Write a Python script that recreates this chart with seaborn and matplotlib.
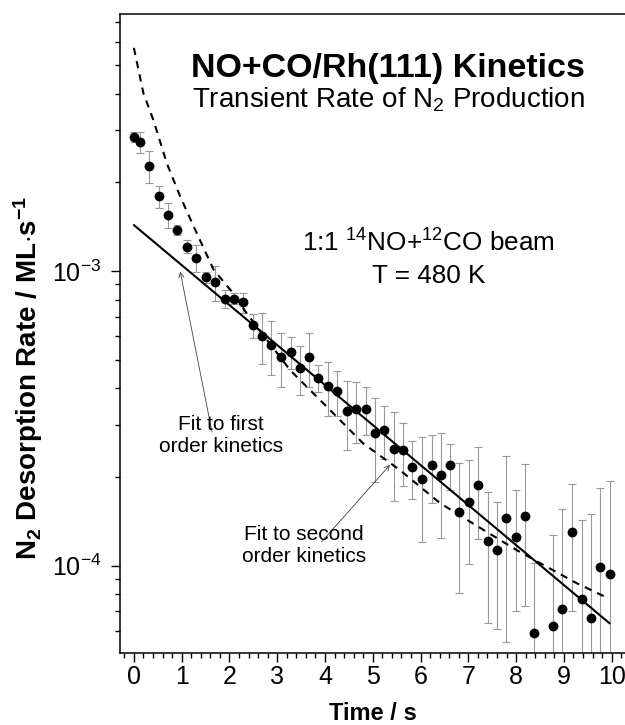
import numpy as np
import matplotlib
matplotlib.use("Agg")
import matplotlib.pyplot as plt
import matplotlib.ticker as mticker
import seaborn as sns

# measured N2 desorption rate (ML/s) vs time (s)
time_s = [0.00, 0.13, 0.32, 0.52, 0.72, 0.91, 1.11, 1.31, 1.51, 1.70, 1.90, 2.09,
          2.29, 2.49, 2.68, 2.88, 3.08, 3.28, 3.47, 3.67, 3.86, 4.06, 4.26, 4.46,
          4.65, 4.85, 5.05, 5.24, 5.44, 5.63, 5.83, 6.03, 6.23, 6.42, 6.62, 6.81,
          7.01, 7.21, 7.41, 7.60, 7.79, 7.99, 8.19, 8.38, 8.78, 8.97, 9.18, 9.37,
          9.56, 9.76, 9.96]
rate = [2.86e-3, 2.74e-3, 2.27e-3, 1.79e-3, 1.55e-3, 1.38e-3, 1.21e-3, 1.11e-3,
        0.952e-3, 0.916e-3, 0.805e-3, 0.805e-3, 0.783e-3, 0.654e-3, 0.603e-3,
        0.560e-3, 0.510e-3, 0.531e-3, 0.468e-3, 0.510e-3, 0.433e-3, 0.407e-3,
        0.391e-3, 0.334e-3, 0.341e-3, 0.341e-3, 0.282e-3, 0.289e-3, 0.249e-3,
        0.246e-3, 0.216e-3, 0.197e-3, 0.220e-3, 0.203e-3, 0.220e-3, 0.152e-3,
        0.165e-3, 0.188e-3, 0.121e-3, 0.113e-3, 0.145e-3, 0.125e-3, 0.147e-3,
        0.0589e-3, 0.0624e-3, 0.0713e-3, 0.130e-3, 0.0771e-3, 0.0663e-3,
        0.0992e-3, 0.0935e-3]
rate_err = [0.11e-3, 0.23e-3, 0.28e-3, 0.16e-3, 0.15e-3, 0.05e-3, 0.06e-3, 0.12e-3,
            0.043e-3, 0.126e-3, 0.057e-3, 0.035e-3, 0.06e-3, 0.06e-3, 0.12e-3,
            0.117e-3, 0.105e-3, 0.065e-3, 0.088e-3, 0.105e-3, 0.045e-3, 0.085e-3,
            0.068e-3, 0.088e-3, 0.08e-3, 0.064e-3, 0.089e-3, 0.058e-3, 0.083e-3,
            0.059e-3, 0.048e-3, 0.077e-3, 0.057e-3, 0.079e-3, 0.039e-3, 0.071e-3,
            0.064e-3, 0.065e-3, 0.057e-3, 0.052e-3, 0.090e-3, 0.055e-3, 0.074e-3,
            0.043e-3, 0.065e-3, 0.085e-3, 0.060e-3, 0.066e-3, 0.084e-3, 0.085e-3,
            0.100e-3]

# fits
first_order_t = [0.0, 9.96]
first_order_rate = [1.432e-3, 6.37e-5]
second_order_t = [0.0, 0.20, 0.41, 0.69, 0.97, 1.32, 1.67, 2.08, 2.36, 3.27, 4.04,
                  4.80, 5.57, 6.41, 7.10, 8.01, 8.64, 9.27, 9.93]
second_order_rate = [5.72e-3, 4.01e-3, 3.25e-3, 2.32e-3, 1.79e-3, 1.34e-3, 1.01e-3,
                     0.840e-3, 0.719e-3, 0.461e-3, 0.346e-3, 0.260e-3, 0.211e-3,
                     0.163e-3, 0.139e-3, 0.113e-3, 0.0992e-3, 0.0872e-3, 0.0775e-3]

sns.set_style("ticks")
plt.rcParams['font.family'] = ['Liberation Sans', 'DejaVu Sans']
plt.rcParams['mathtext.fontset'] = 'custom'
plt.rcParams['mathtext.rm'] = 'Liberation Sans'
plt.rcParams['mathtext.it'] = 'Liberation Sans:italic'
plt.rcParams['mathtext.bf'] = 'Liberation Sans:bold'
for key in ['text.color', 'axes.labelcolor', 'xtick.color', 'ytick.color']:
    plt.rcParams[key] = 'black'

W, H = 625, 725
fig = plt.figure(figsize=(W / 100, H / 100), dpi=100)
ax = fig.add_axes([120 / W, (H - 653) / H, (W - 120) / W, (653 - 14) / H])

ax.errorbar(time_s, rate, yerr=rate_err, fmt='none', ecolor='0.6',
            elinewidth=0.8, capsize=3, capthick=0.8, zorder=2)
sns.lineplot(x=first_order_t, y=first_order_rate, ax=ax, color='black',
             lw=1.5, sort=False, estimator=None, zorder=3)
sns.lineplot(x=second_order_t, y=second_order_rate, ax=ax, color='black',
             lw=1.5, linestyle=(0, (3.5, 3)), sort=False, estimator=None, zorder=3)
sns.scatterplot(x=time_s, y=rate, ax=ax, color='black', s=50, linewidth=0, zorder=4)

ax.set_yscale('log')
ax.set_xlim(-0.29, 10.28)
ax.set_ylim(5.055e-5, 7.45e-3)
ax.xaxis.set_major_locator(mticker.MultipleLocator(1))
ax.xaxis.set_minor_locator(mticker.MultipleLocator(0.2))
ax.yaxis.set_major_locator(mticker.LogLocator(base=10))
ax.yaxis.set_minor_locator(mticker.LogLocator(base=10, subs=np.arange(2, 10)))
ax.yaxis.set_minor_formatter(mticker.NullFormatter())

ax.spines['right'].set_visible(False)
for s in ['left', 'bottom', 'top']:
    ax.spines[s].set_linewidth(1.1)
    ax.spines[s].set_color('black')
ax.tick_params(which='major', direction='out', length=6.5, width=1.0, labelsize=18)
ax.tick_params(which='minor', direction='out', length=3.5, width=1.0)
ax.tick_params(axis='y', which='major', pad=7)
ax.tick_params(axis='x', which='major', pad=2)

ax.set_xlabel('Time / s', fontsize=17, fontweight='bold')
ax.xaxis.set_label_coords(0.501, -0.077)
ax.set_ylabel(r'$\mathbf{N_2}$ Desorption Rate / ML$\cdot$s$^{\mathbf{-1}}$',
              fontsize=20, fontweight='bold')
ax.yaxis.set_label_coords(-0.1485, 0.43)

fig.text(388 / W, 1 - 77 / H, 'NO+CO/Rh(111) Kinetics', ha='center',
         va='baseline', fontsize=24.5, fontweight='bold')
fig.text(388 / W, 1 - 107 / H, r'Transient Rate of N$_2$ Production', ha='center',
         va='baseline', fontsize=20)
fig.text(428.5 / W, 1 - 251.7 / H, r'1:1 $^{14}$NO+$^{12}$CO beam', ha='center',
         va='baseline', fontsize=18.8)
fig.text(428.5 / W, 1 - 283.3 / H, 'T = 480 K', ha='center',
         va='baseline', fontsize=18.8)

fig.text(221 / W, 1 - 452 / H, 'Fit to first\norder kinetics', ha='center',
         va='baseline', fontsize=15, linespacing=1.2)
fig.text(304 / W, 1 - 562 / H, 'Fit to second\norder kinetics', ha='center',
         va='baseline', fontsize=15, linespacing=1.2)

arrow = dict(arrowstyle='->', lw=0.6, color='0.25', shrinkA=0, shrinkB=0,
             mutation_scale=9)
ax.annotate('', xy=(0.97, 0.995e-3), xytext=(212, H - 432),
            textcoords='figure pixels', arrowprops=arrow)
ax.annotate('', xy=(5.36, 0.2197e-3), xytext=(321.7, H - 541.7),
            textcoords='figure pixels', arrowprops=arrow)

fig.savefig('out.png', dpi=100)
